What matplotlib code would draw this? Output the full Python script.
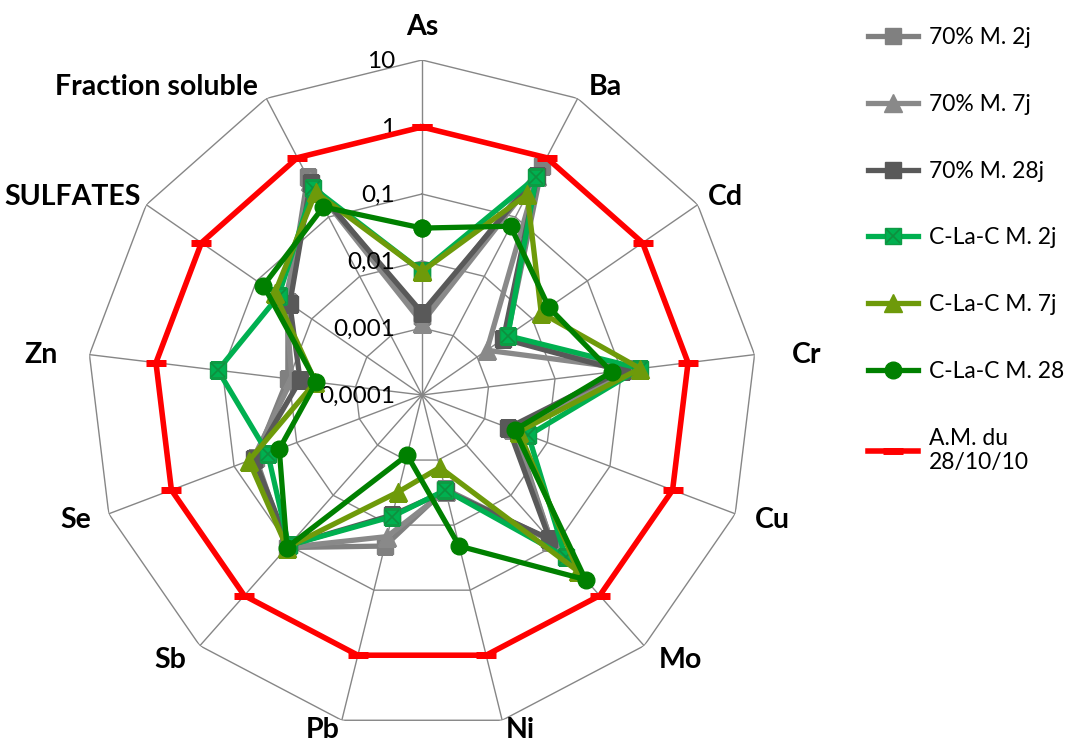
import matplotlib
matplotlib.use("Agg")
import matplotlib.pyplot as plt
import numpy as np

plt.rcParams["font.family"] = ["Lato", "DejaVu Sans"]

# axes of the radar (clockwise from top)
categories = ["As", "Ba", "Cd", "Cr", "Cu", "Mo", "Ni", "Pb", "Sb", "Se", "Zn",
              "SULFATES", "Fraction soluble"]

# values (log scale 0.0001 .. 10)
m70_2j = [0.0015, 0.72, 0.0035, 0.15, 0.003, 0.08, 0.0028, 0.021, 0.11, 0.045, 0.0104, 0.027, 0.47]
m70_7j = [0.0012, 0.5, 0.0015, 0.15, 0.0028, 0.08, 0.003, 0.015, 0.11, 0.05, 0.009, 0.03, 0.4]
m70_28j = [0.0017, 0.5, 0.003, 0.1, 0.0024, 0.074, 0.003, 0.007, 0.1, 0.048, 0.0068, 0.025, 0.38]
clac_2j = [0.007, 0.47, 0.0036, 0.19, 0.005, 0.17, 0.0029, 0.0074, 0.1, 0.029, 0.117, 0.04, 0.31]
clac_7j = [0.007, 0.24, 0.0145, 0.19, 0.0035, 0.33, 0.0013, 0.0031, 0.11, 0.058, 0.004, 0.047, 0.26]
clac_28 = [0.031, 0.07, 0.02, 0.071, 0.003, 0.48, 0.021, 0.00084, 0.11, 0.019, 0.0039, 0.075, 0.148]
am_ref = [1, 1, 1, 1, 1, 1, 1, 1, 1, 1, 1, 1, 1]

ring_values = [0.0001, 0.001, 0.01, 0.1, 1, 10]
ring_labels = ["0,0001", "0,001", "0,01", "0,1", "1", "10"]

n = len(categories)
theta = np.linspace(0, 2 * np.pi, n, endpoint=False)
theta_c = np.append(theta, theta[0])


def closed(v):
    return list(v) + [v[0]]


fig = plt.figure(figsize=(10.68, 7.42), dpi=100)
ax = fig.add_axes([87 / 1068, 12 / 742, 670 / 1068, 670 / 742], projection="polar")
ax.set_theta_zero_location("N")
ax.set_theta_direction(-1)
ax.set_rscale("log")
ax.set_rlim(1e-4, 10)
ax.grid(False)
ax.set_xticks([])
ax.set_yticks([])
ax.spines["polar"].set_visible(False)

grid_col = "#868686"
for v in ring_values[1:]:
    ax.plot(theta_c, [v] * (n + 1), color=grid_col, lw=1.0, zorder=1)
for t in theta:
    ax.plot([t, t], [1e-4, 10], color=grid_col, lw=1.0, zorder=1)

lw = 3.8
ms = 12
h1, = ax.plot(theta_c, closed(m70_2j), color="#808080", lw=lw, marker="s", ms=ms, zorder=3)
h2, = ax.plot(theta_c, closed(m70_7j), color="#898989", lw=lw, marker="^", ms=ms + 1, zorder=3)
h3, = ax.plot(theta_c, closed(m70_28j), color="#595959", lw=lw, marker="s", ms=ms, zorder=3)
h4, = ax.plot(theta_c, closed(clac_2j), color="#00B050", lw=lw, marker="s", ms=ms,
              mec="#0E9A44", zorder=4)
h4x, = ax.plot(theta, clac_2j, ls="none", color="#0E8F3E", marker="x", ms=ms - 2, mew=1.2, zorder=4)
h5, = ax.plot(theta_c, closed(clac_7j), color="#6E9A0A", lw=lw, marker="^", ms=ms + 1, zorder=4)
h6, = ax.plot(theta_c, closed(clac_28), color="#008000", lw=lw, marker="o", ms=ms, zorder=4)
h7, = ax.plot(theta_c, closed(am_ref), color="#FF0000", lw=4.0, marker="_", ms=15, mew=5, zorder=5)

# category labels
offsets = [(0, 33), (28, 11), (28, 8), (52, 0), (37, -6), (36, -14), (18, -10),
           (-19, -10), (-30, -14), (-33, -6), (-48, 0), (-74, 8), (-110, 11)]
for t, lab, off in zip(theta, categories, offsets):
    ax.annotate(lab, xy=(t, 10), xytext=off, textcoords="offset pixels",
                ha="center", va="center", fontsize=20.5, fontweight="bold",
                annotation_clip=False)

# radial tick labels
for v, lab in zip(ring_values, ring_labels):
    ax.annotate(lab, xy=(0, v), xytext=(-27, -1), textcoords="offset pixels",
                ha="right", va="center", fontsize=17.5, annotation_clip=False)

handles = [h1, h2, h3, (h4, h4x), h5, h6, h7]
labels = ["70% M. 2j", "70% M. 7j", "70% M. 28j", "C-La-C M. 2j", "C-La-C M. 7j",
          "C-La-C M. 28", "A.M. du\n28/10/10"]
fig.legend(handles, labels, loc="upper left", bbox_to_anchor=(868 / 1068, 1 - 27 / 742),
           frameon=False, fontsize=16.5, handlelength=2.2, handletextpad=0.45,
           labelspacing=2.0, borderpad=0, borderaxespad=0)

fig.savefig("out.png", dpi=100)
